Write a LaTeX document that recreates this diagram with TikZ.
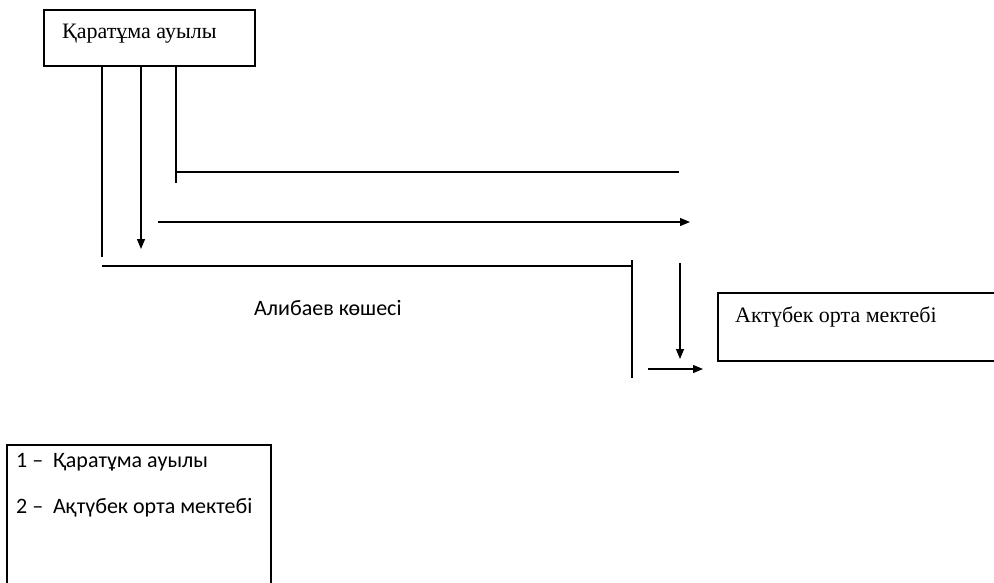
\documentclass[tikz,border=0pt]{standalone}
\usepackage{fontspec}
\setmainfont{Liberation Serif}
\newfontfamily\legendfont{Carlito}
\usetikzlibrary{arrows.meta}
\tikzset{
  road/.style={line width=1.2pt},
  roadarrow/.style={road, -{Triangle[length=10pt,width=8pt]}},
  place/.style={draw, line width=1.2pt, inner sep=0pt},
  label/.style={anchor=base west, inner sep=0pt, font=\fontsize{22}{26}\selectfont},
  sanslabel/.style={label, font=\legendfont\fontsize{22}{26}\selectfont}
}
\begin{document}
\begin{tikzpicture}[x=1pt, y=-1pt]
    \useasboundingbox (0,0) rectangle (994,582);
    \clip (0,0) rectangle (994,582);
    % places
    \draw[place] (44,10) rectangle (255,66);
    \node[label] (village) at (62,38) {Қаратұма ауылы};
    \draw[place] (718,293) rectangle (1000,361);
    \node[label] (school) at (735,322) {Актүбек орта мектебі};
    % roads
    \coordinate (a0) at (102,66);
    \coordinate (a1) at (102,257);
    \coordinate (b0) at (141,66);
    \coordinate (b1) at (141,249);
    \coordinate (c0) at (176,66);
    \coordinate (c1) at (176,183);
    \coordinate (c2) at (176,172);
    \coordinate (c3) at (679,172);
    \coordinate (d0) at (158,222);
    \coordinate (d1) at (690,222);
    \coordinate (e0) at (102,266);
    \coordinate (e1) at (632,266);
    \coordinate (e2) at (632,260);
    \coordinate (e3) at (632,378);
    \coordinate (f0) at (680,263);
    \coordinate (f1) at (680,359);
    \coordinate (g0) at (648,369);
    \coordinate (g1) at (703,369);
    \draw[road] (a0) -- (a1);
    \draw[roadarrow] (b0) -- (b1);
    \draw[road] (c0) -- (c1);
    \draw[road] (c2) -- (c3);
    \draw[roadarrow] (d0) -- (d1);
    \draw[road] (e0) -- (e1);
    \draw[road] (e2) -- (e3);
    \draw[roadarrow] (f0) -- (f1);
    \draw[roadarrow] (g0) -- (g1);
    \node[sanslabel] (street) at (254,315) {Алибаев көшесі};
    % legend
    \draw[place] (7,445) rectangle (271,590);
    \node[sanslabel] (key1) at (16,467) {1 –\ \ Қаратұма ауылы};
    \node[sanslabel] (key2) at (16,513) {2 –\ \ Ақтүбек орта мектебі};
\end{tikzpicture}
\end{document}
